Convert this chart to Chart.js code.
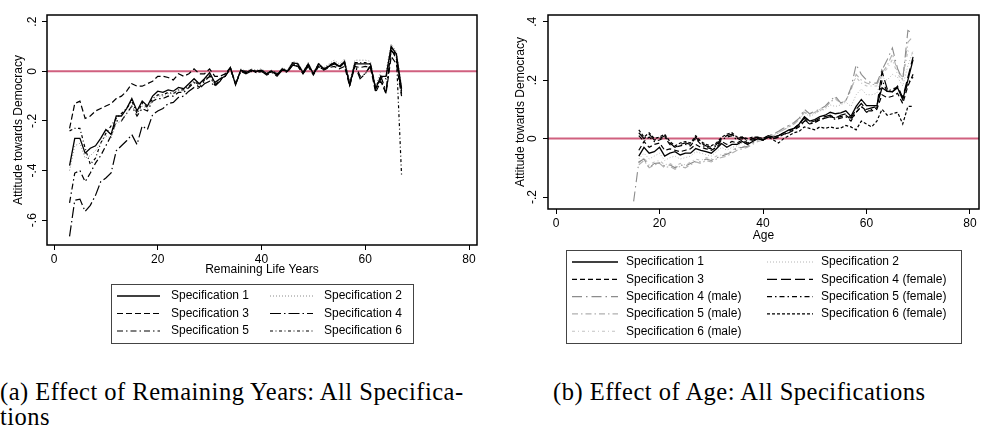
<!DOCTYPE html>
<html lang="en">
<head>
  <meta charset="UTF-8">
  <title>Attitude towards Democracy - All Specifications</title>
  <script src="https://cdn.jsdelivr.net/npm/chart.js@4"></script>
  <style>
    body {
      margin: 0;
      background: #ffffff;
      width: 982px;
      height: 427px;
      position: relative;
      overflow: hidden;
    }
    canvas { position: absolute; top: 0; }
    #leftChart { left: 0; }
    #rightChart { left: 492px; }
    .caption {
      position: absolute;
      font-family: 'Liberation Serif', serif;
      font-size: 24.5px;
      letter-spacing: 0.5px;
      line-height: 25px;
      color: #000;
      white-space: nowrap;
    }
  </style>
</head>
<body>
  <canvas id="leftChart" width="490" height="350"></canvas>
  <canvas id="rightChart" width="490" height="350"></canvas>
  <div class="caption" style="left:0; top:379px; width:460px; text-align:justify; text-align-last:justify;">(a) Effect of Remaining Years: All Specifica-</div>
  <div class="caption" style="left:0; top:404px;">tions</div>
  <div class="caption" style="left:553px; top:379px;">(b) Effect of Age: All Specifications</div>

  <script>
    // ---- panel (a): remaining life years ----
    const years = [3, 4, 5, 6, 7, 8, 9, 10, 11, 12,
      13, 14, 15, 16, 17, 18, 19, 20, 21, 22,
      23, 24, 25, 26, 27, 28, 29, 30, 31, 32,
      33, 34, 35, 36, 37, 38, 39, 40, 41, 42,
      43, 44, 45, 46, 47, 48, 49, 50, 51, 52,
      53, 54, 55, 56, 57, 58, 59, 60, 61, 62,
      63, 64, 65, 66, 67];
    const spec1 = [-0.38, -0.27, -0.27, -0.33, -0.31, -0.30, -0.27, -0.235, -0.255, -0.18,
      -0.18, -0.15, -0.11, -0.16, -0.12, -0.14, -0.10, -0.08, -0.085, -0.075,
      -0.08, -0.065, -0.07, -0.05, -0.03, -0.05, -0.03, -0.005, -0.045, -0.03,
      -0.02, 0.015, -0.055, 0.005, -0.005, 0.005, 0, 0.005, -0.01, 0,
      -0.015, 0.01, 0, 0.035, 0.03, -0.005, 0.03, -0.01, 0.03, 0.01,
      0.02, 0.035, 0.02, 0.04, -0.055, 0.03, 0.03, 0.03, 0.03, -0.07,
      -0.02, -0.02, 0.10, 0.07, -0.07];
    const spec2 = [-0.40, -0.30, -0.29, -0.35, -0.34, -0.32, -0.29, -0.26, -0.27, -0.21,
      -0.20, -0.17, -0.14, -0.17, -0.14, -0.15, -0.12, -0.10, -0.10, -0.09,
      -0.09, -0.075, -0.08, -0.06, -0.04, -0.055, -0.035, -0.01, -0.05, -0.03,
      -0.02, 0.015, -0.05, 0.01, 0, 0.01, 0.005, 0.01, -0.005, 0.005,
      -0.01, 0.015, 0.005, 0.04, 0.035, 0, 0.035, -0.005, 0.035, 0.015,
      0.03, 0.045, 0.03, 0.05, -0.045, 0.045, 0.045, 0.045, 0.04, -0.06,
      0, 0, 0.11, 0.08, -0.06];
    const spec3 = [-0.23, -0.13, -0.12, -0.19, -0.18, -0.16, -0.15, -0.14, -0.13, -0.11,
      -0.10, -0.08, -0.05, -0.06, -0.06, -0.05, -0.04, -0.02, -0.02, -0.025,
      -0.035, -0.01, -0.02, -0.01, 0.01, -0.01, -0.01, 0.01, -0.02, -0.02,
      -0.01, 0.015, -0.05, 0.005, 0, 0.005, -0.005, 0, -0.01, 0.005,
      -0.01, 0.005, 0, 0.025, 0.02, -0.01, 0.02, -0.015, 0.02, 0.005,
      0.015, 0.02, 0.01, 0.02, -0.06, 0.02, 0.015, 0.02, 0.015, -0.085,
      -0.04, -0.09, 0.06, 0.03, -0.10];
    const spec4 = [-0.665, -0.52, -0.515, -0.565, -0.54, -0.50, -0.445, -0.43, -0.41, -0.32,
      -0.30, -0.28, -0.255, -0.295, -0.22, -0.235, -0.175, -0.16, -0.15, -0.13,
      -0.125, -0.105, -0.10, -0.08, -0.065, -0.07, -0.05, -0.04, -0.06, -0.04,
      -0.01, 0.015, -0.05, 0, -0.01, 0, -0.005, 0, -0.015, -0.005,
      -0.02, 0.005, -0.005, 0.025, 0.02, -0.01, 0.02, -0.01, 0.02, 0.005,
      0.02, 0.03, 0.015, 0.035, -0.05, 0.025, -0.03, -0.01, 0.02, -0.07,
      -0.02, -0.08, 0.085, 0.06, -0.08];
    const spec5 = [-0.53, -0.41, -0.40, -0.445, -0.41, -0.37, -0.34, -0.30, -0.26, -0.20,
      -0.20, -0.17, -0.14, -0.18, -0.15, -0.16, -0.12, -0.11, -0.11, -0.10,
      -0.10, -0.085, -0.085, -0.065, -0.045, -0.065, -0.04, -0.02, -0.055, -0.035,
      -0.02, 0.01, -0.05, 0, -0.005, 0.005, 0, 0.005, -0.01, 0,
      -0.015, 0.01, 0, 0.03, 0.025, -0.005, 0.025, -0.01, 0.025, 0.01,
      0.02, 0.03, 0.02, 0.035, -0.055, 0.03, -0.02, -0.01, 0.025, -0.075,
      -0.03, -0.09, 0.09, 0.05, -0.09];
    const spec6 = [-0.24, -0.23, -0.23, -0.31, -0.375, -0.35, -0.29, -0.25, -0.22, -0.19,
      -0.17, -0.15, -0.12, -0.17, -0.13, -0.145, -0.11, -0.095, -0.095, -0.085,
      -0.09, -0.075, -0.075, -0.06, -0.04, -0.055, -0.035, -0.015, -0.05, -0.03,
      -0.02, 0.01, -0.05, 0.005, -0.005, 0.005, 0, 0.005, -0.01, 0,
      -0.015, 0.01, 0, 0.03, 0.03, -0.005, 0.03, -0.01, 0.03, 0.01,
      0.025, 0.035, 0.02, 0.04, -0.05, 0.035, 0.035, 0.035, 0.03, -0.07,
      -0.02, -0.03, 0.10, 0.06, -0.42];
    const leftLabels = ['Specification 1', 'Specification 2', 'Specification 3',
      'Specification 4', 'Specification 5', 'Specification 6'];

    // ---- panel (b): age ----
    const ages = [15, 16, 17, 18, 19, 20, 21, 22, 23, 24,
      25, 26, 27, 28, 29, 30, 31, 32, 33, 34,
      35, 36, 37, 38, 39, 40, 41, 42, 43, 44,
      45, 46, 47, 48, 49, 50, 51, 52, 53, 54,
      55, 56, 57, 58, 59, 60, 61, 62, 63, 64,
      65, 66, 67, 68, 69];
    const age1 = [null, -0.06, -0.03, -0.05, -0.045, -0.03, -0.06, -0.05, -0.045, -0.056,
      -0.05, -0.05, -0.034, -0.04, -0.045, -0.05, -0.035, -0.017, -0.03, -0.02,
      -0.02, -0.01, -0.02, -0.01, 0, -0.005, 0.005, 0.005, 0.01, 0.02,
      0.03, 0.035, 0.05, 0.075, 0.06, 0.065, 0.075, 0.08, 0.09, 0.085,
      0.088, 0.095, 0.076, 0.11, 0.134, 0.113, 0.113, 0.113, 0.174, 0.162,
      0.16, 0.174, 0.134, 0.20, 0.27];
    const age2 = [null, -0.07, -0.05, -0.07, -0.06, -0.05, -0.075, -0.065, -0.06, -0.07,
      -0.065, -0.06, -0.045, -0.05, -0.055, -0.06, -0.045, -0.03, -0.04, -0.03,
      -0.025, -0.015, -0.02, -0.01, 0, 0, 0.01, 0.01, 0.02, 0.03,
      0.04, 0.05, 0.065, 0.09, 0.075, 0.085, 0.095, 0.10, 0.115, 0.11,
      0.115, 0.125, 0.11, 0.15, 0.17, 0.15, 0.15, 0.155, 0.21, 0.20,
      0.22, 0.21, 0.18, 0.25, 0.30];
    const age3 = [null, -0.04, -0.01, -0.03, -0.02, -0.015, -0.04, -0.035, -0.04, -0.045,
      -0.04, -0.035, -0.02, -0.03, -0.035, -0.04, -0.03, -0.01, -0.02, -0.01,
      -0.015, -0.005, -0.015, -0.005, 0, -0.005, 0.005, 0, 0.005, 0.015,
      0.02, 0.03, 0.04, 0.06, 0.05, 0.055, 0.065, 0.07, 0.075, 0.07,
      0.075, 0.08, 0.065, 0.09, 0.11, 0.095, 0.095, 0.10, 0.15, 0.14,
      0.145, 0.155, 0.12, 0.18, 0.22];
    const age4f = [null, 0.02, 0, 0.015, -0.005, 0, 0.01, -0.015, -0.03, -0.02,
      -0.015, -0.02, 0.005, -0.015, -0.025, -0.03, -0.02, 0, 0.01, 0.015,
      0, 0.005, -0.005, 0, 0.005, 0, 0.01, 0.005, 0.01, 0.02,
      0.025, 0.035, 0.05, 0.07, 0.055, 0.06, 0.07, 0.075, 0.08, 0.07,
      0.08, 0.085, 0.07, 0.10, 0.12, 0.10, 0.105, 0.11, 0.23, 0.17,
      0.16, 0.18, 0.14, 0.21, 0.28];
    const age4m = [-0.215, -0.08, -0.07, -0.10, -0.085, -0.083, -0.094, -0.09, -0.10, -0.09,
      -0.094, -0.085, -0.077, -0.08, -0.07, -0.075, -0.066, -0.06, -0.054, -0.045,
      -0.032, -0.03, -0.026, -0.015, -0.005, 0, 0.01, 0.015, 0.025, 0.036,
      0.045, 0.055, 0.07, 0.10, 0.085, 0.094, 0.10, 0.111, 0.13, 0.145,
      0.122, 0.13, 0.174, 0.253, 0.22, 0.20, 0.19, 0.19, 0.235, 0.27,
      0.31, 0.24, 0.20, 0.37, 0.36];
    const age5f = [null, 0.01, -0.01, 0.005, -0.01, -0.005, 0.005, -0.02, -0.03, -0.025,
      -0.02, -0.025, 0, -0.02, -0.03, -0.035, -0.025, -0.005, 0.005, 0.01,
      -0.005, 0, -0.01, 0, 0, -0.005, 0.005, 0, 0.005, 0.015,
      0.02, 0.03, 0.045, 0.065, 0.05, 0.055, 0.065, 0.07, 0.075, 0.065,
      0.07, 0.075, 0.06, 0.09, 0.11, 0.09, 0.10, 0.105, 0.20, 0.16,
      0.17, 0.175, 0.14, 0.19, 0.21];
    const age5m = [null, -0.09, -0.075, -0.10, -0.09, -0.085, -0.10, -0.095, -0.105, -0.095,
      -0.10, -0.09, -0.08, -0.085, -0.075, -0.08, -0.07, -0.065, -0.06, -0.05,
      -0.04, -0.035, -0.03, -0.02, -0.01, -0.005, 0.005, 0.01, 0.02, 0.03,
      0.04, 0.05, 0.065, 0.09, 0.08, 0.09, 0.095, 0.105, 0.125, 0.14,
      0.12, 0.13, 0.165, 0.22, 0.20, 0.19, 0.185, 0.185, 0.225, 0.25,
      0.29, 0.23, 0.21, 0.33, 0.35];
    const age6f = [null, 0.03, 0.005, 0.02, 0, 0.005, 0.015, -0.01, -0.025, -0.015,
      -0.01, -0.015, 0.01, -0.01, -0.02, -0.025, -0.015, 0.005, 0.015, 0.02,
      0.005, 0.005, 0, 0.005, 0.005, 0, 0.005, -0.005, -0.015, 0,
      0.01, 0.02, 0.025, 0.04, 0.035, 0.03, 0.04, 0.035, 0.04, 0.035,
      0.036, 0.045, 0.04, 0.03, 0.06, 0.05, 0.04, 0.06, 0.10, 0.08,
      0.085, 0.09, 0.05, 0.11, 0.11];
    const age6m = [null, -0.085, -0.065, -0.09, -0.08, -0.075, -0.09, -0.085, -0.095, -0.085,
      -0.09, -0.08, -0.07, -0.075, -0.065, -0.07, -0.06, -0.055, -0.05, -0.04,
      -0.03, -0.03, -0.02, -0.015, -0.005, 0, 0.01, 0.015, 0.02, 0.035,
      0.045, 0.05, 0.07, 0.095, 0.085, 0.09, 0.10, 0.11, 0.125, 0.135,
      0.12, 0.13, 0.17, 0.21, 0.19, 0.18, 0.18, 0.18, 0.22, 0.24,
      0.27, 0.22, 0.20, 0.30, 0.29];
    const rightLabels = ['Specification 1', 'Specification 2', 'Specification 3',
      'Specification 4 (female)', 'Specification 4 (male)', 'Specification 5 (female)',
      'Specification 5 (male)', 'Specification 6 (female)', 'Specification 6 (male)'];

    const xTicks = [0, 20, 40, 60, 80];
    const leftYTicks = [-0.6, -0.4, -0.2, 0, 0.2];
    const rightYTicks = [-0.2, 0, 0.2, 0.4];

    // line looks (Stata-ish patterns)
    const leftStyles = [
      { color: '#000', dash: [], width: 1.3 },
      { color: '#8a8a8a', dash: [1, 2], width: 1 },
      { color: '#000', dash: [6, 3], width: 1.2 },
      { color: '#000', dash: [11, 3, 1.5, 3], width: 1.2 },
      { color: '#000', dash: [6, 3, 1.5, 3], width: 1.2 },
      { color: '#000', dash: [3, 2.5, 1, 2.5], width: 1.2 }
    ];
    const rightStyles = [
      { color: '#000', dash: [], width: 1.3, order: 0 },
      { color: '#b4b4b4', dash: [1, 2], width: 1, order: 1 },
      { color: '#000', dash: [5, 3], width: 1.2, order: 0 },
      { color: '#000', dash: [10, 4], width: 1.2, order: 0 },
      { color: '#8c8c8c', dash: [10, 4, 1.5, 4], width: 1.1, order: 1 },
      { color: '#000', dash: [5, 3, 1.5, 3], width: 1.2, order: 0 },
      { color: '#b0b0b0', dash: [6, 3, 1.5, 3], width: 1.1, order: 1 },
      { color: '#000', dash: [3, 2], width: 1.2, order: 0 },
      { color: '#c2c2c2', dash: [3, 3, 1, 3], width: 1.1, order: 1 }
    ];

    Chart.defaults.font.family = "'Liberation Sans', Arial, sans-serif";
    Chart.defaults.color = '#000';

    const pts = (xs, ys) => xs.map((x, i) => ({ x: x, y: ys[i] }));
    const fmt = v => (v === 0 ? '0' : String(v).replace('0.', '.'));

    // frame, zero line, rotated y labels and boxed legend
    const stataLook = {
      id: 'stataLook',
      beforeDatasetsDraw(chart) {
        const { ctx, chartArea: a, scales: { y } } = chart;
        const y0 = y.getPixelForValue(0);
        ctx.save();
        ctx.strokeStyle = '#d0607f';
        ctx.lineWidth = 2;
        ctx.beginPath();
        ctx.moveTo(a.left, y0);
        ctx.lineTo(a.right, y0);
        ctx.stroke();
        ctx.restore();
      },
      afterDraw(chart, args, opts) {
        const { ctx, chartArea: a, scales: { y } } = chart;
        ctx.save();
        ctx.strokeStyle = '#000';
        ctx.lineWidth = 1.5;
        ctx.strokeRect(a.left, a.top, a.right - a.left, a.bottom - a.top);

        ctx.fillStyle = '#000';
        ctx.font = "12px 'Liberation Sans', Arial, sans-serif";
        ctx.textAlign = 'center';
        ctx.textBaseline = 'middle';
        y.ticks.forEach(t => {
          ctx.save();
          ctx.translate(opts.labelX, y.getPixelForValue(t.value));
          ctx.rotate(-Math.PI / 2);
          ctx.fillText(fmt(t.value), 0, 0);
          ctx.restore();
        });

        const L = opts.legend;
        ctx.strokeStyle = '#444';
        ctx.lineWidth = 1;
        ctx.strokeRect(L.x + 0.5, L.y + 0.5, L.w, L.h);
        ctx.textAlign = 'left';
        chart.data.datasets.forEach((ds, i) => {
          const ly = L.row0 + Math.floor(i / 2) * L.step;
          const sx = L.cols[i % 2];
          ctx.save();
          ctx.strokeStyle = ds.borderColor;
          ctx.lineWidth = ds.borderWidth;
          ctx.setLineDash(ds.borderDash);
          ctx.beginPath();
          ctx.moveTo(sx, ly);
          ctx.lineTo(sx + L.sample, ly);
          ctx.stroke();
          ctx.restore();
          ctx.fillText(ds.label, sx + L.textGap, ly);
        });
        ctx.restore();
      }
    };

    function buildChart(id, xs, series, labels, styles, cfg) {
      new Chart(document.getElementById(id), {
        type: 'line',
        data: {
          datasets: series.map((s, i) => ({
            label: labels[i],
            data: pts(xs, s),
            borderColor: styles[i].color,
            borderDash: styles[i].dash,
            borderWidth: styles[i].width,
            order: styles[i].order || 0,
            pointRadius: 0,
            fill: false,
            tension: 0
          }))
        },
        options: {
          responsive: false,
          animation: false,
          layout: { padding: cfg.padding },
          plugins: {
            legend: { display: false },
            tooltip: { enabled: false },
            stataLook: { labelX: cfg.labelX, legend: cfg.legend }
          },
          scales: {
            x: {
              type: 'linear',
              min: cfg.xMin,
              max: cfg.xMax,
              afterBuildTicks: s => { s.ticks = xTicks.map(v => ({ value: v })); },
              afterFit: s => { s.height = cfg.xHeight; },
              grid: { drawOnChartArea: false, tickLength: 5, color: '#000' },
              border: { display: false },
              ticks: { font: { size: 12 }, padding: 2, maxRotation: 0, autoSkip: false },
              title: { display: true, text: cfg.xTitle, font: { size: 12 }, padding: { top: 0, bottom: 0 } }
            },
            y: {
              type: 'linear',
              min: cfg.yMin,
              max: cfg.yMax,
              afterBuildTicks: s => { s.ticks = cfg.yTicks.map(v => ({ value: v })); },
              afterFit: s => { s.width = cfg.yWidth; },
              grid: { drawOnChartArea: false, tickLength: 5, color: '#000' },
              border: { display: false },
              ticks: { display: false },
              title: { display: true, text: 'Attitude towards Democracy', font: { size: 12 }, padding: { top: cfg.yTitlePad, bottom: 0 } }
            }
          }
        },
        plugins: [stataLook]
      });
    }

    buildChart('leftChart', years, [spec1, spec2, spec3, spec4, spec5, spec6], leftLabels, leftStyles, {
      padding: { left: 0, right: 13, top: 15, bottom: 73 },
      xMin: -1.35, xMax: 81.54, yMin: -0.70, yMax: 0.227,
      yTicks: leftYTicks, xTitle: 'Remaining Life Years',
      xHeight: 32, yWidth: 47, yTitlePad: 11, labelX: 33,
      legend: { x: 111, y: 284, w: 302, h: 59, row0: 296, step: 17.5, cols: [117, 270], sample: 43, textGap: 54 }
    });

    buildChart('rightChart', ages, [age1, age2, age3, age4f, age4m, age5f, age5m, age6f, age6m], rightLabels, rightStyles, {
      padding: { left: 0, right: 3, top: 15, bottom: 107 },
      xMin: -1.55, xMax: 81.74, yMin: -0.241, yMax: 0.423,
      yTicks: rightYTicks, xTitle: 'Age',
      xHeight: 34, yWidth: 56, yTitlePad: 21, labelX: 41,
      legend: { x: 74, y: 250, w: 395, h: 93, row0: 262, step: 17.3, cols: [80, 275], sample: 46, textGap: 54 }
    });
  </script>
</body>
</html>
